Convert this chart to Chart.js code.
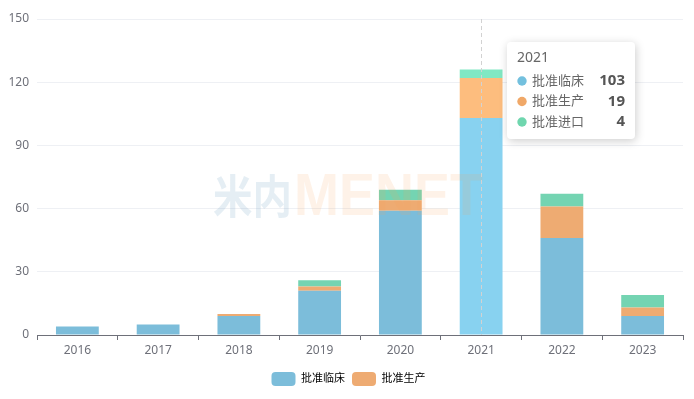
<!DOCTYPE html>
<html>
<head>
<meta charset="utf-8">
<script src="https://cdn.jsdelivr.net/npm/chart.js@4/dist/chart.umd.min.js"></script>
<style>
html,body{margin:0;padding:0;background:#fff;}
#wrap{width:694px;height:399px;position:relative;}
</style>
</head>
<body>
<div id="wrap"><canvas id="c" width="694" height="399"></canvas></div>
<script>
const categories = ['2016','2017','2018','2019','2020','2021','2022','2023'];
const seriesNames = ['批准临床','批准生产','批准进口'];
const clinical = [4, 5, 9, 21, 59, 103, 46, 9];
const production = [0, 0, 1, 2, 5, 19, 15, 4];
const imports = [0, 0, 0, 3, 5, 4, 6, 6];
const yTicks = [0, 30, 60, 90, 120, 150];
const hoverIndex = 5;

const FONT = "'Noto Sans','Noto Sans CJK SC',sans-serif";
const baseColors = ['#7cbdda', '#eeab72', '#74d4b2'];
const hotColors = ['#88d2f0', '#fdbd7e', '#80e8c3'];
const markerColors = ['#73c0de', '#f0a868', '#6fd6ae'];

function colorFor(ds){
  return ctx => ctx.dataIndex === hoverIndex ? hotColors[ds] : baseColors[ds];
}

const legendShift = {
  id: 'legendShift',
  afterLayout(chart){
    if (chart.legend){ chart.legend.left += 7; chart.legend.right += 7; }
  }
};

const watermark = {
  id: 'watermark',
  afterDatasetsDraw(chart){
    const ctx = chart.ctx;
    const a = chart.chartArea;
    const x0 = a.left + 176, base = a.top + 196;
    ctx.save();
    ctx.textBaseline = 'alphabetic';
    ctx.textAlign = 'left';
    ctx.fillStyle = 'rgba(110,160,195,0.18)';
    ctx.font = "bold 46px 'Noto Sans CJK SC',sans-serif";
    ctx.fillText('米内', x0, base - 2, 79);
    ctx.fillStyle = 'rgba(250,165,90,0.14)';
    ctx.font = "bold 59px 'Liberation Sans',sans-serif";
    ctx.fillText('MENET', x0 + 81, base, 189);
    // axis pointer
    const px = Math.round(chart.scales.x.getPixelForValue(hoverIndex)) + 0.5;
    ctx.strokeStyle = '#d2d2d2';
    ctx.lineWidth = 1;
    ctx.setLineDash([4, 3]);
    ctx.beginPath();
    ctx.moveTo(px, a.top);
    ctx.lineTo(px, a.bottom);
    ctx.stroke();
    ctx.restore();
  }
};

function roundRect(ctx, x, y, w, h, r){
  ctx.beginPath();
  ctx.moveTo(x + r, y);
  ctx.lineTo(x + w - r, y);
  ctx.arcTo(x + w, y, x + w, y + r, r);
  ctx.lineTo(x + w, y + h - r);
  ctx.arcTo(x + w, y + h, x + w - r, y + h, r);
  ctx.lineTo(x + r, y + h);
  ctx.arcTo(x, y + h, x, y + h - r, r);
  ctx.lineTo(x, y + r);
  ctx.arcTo(x, y, x + r, y, r);
  ctx.closePath();
}

const tipPlugin = {
  id: 'tipbox',
  afterDraw(chart){
    const ctx = chart.ctx;
    const px = chart.scales.x.getPixelForValue(hoverIndex);
    const left = Math.round(px + 26), top = 42, w = 128, h = 97;
    ctx.save();
    ctx.shadowColor = 'rgba(0,0,0,0.2)';
    ctx.shadowBlur = 10;
    ctx.shadowOffsetX = 1;
    ctx.shadowOffsetY = 2;
    ctx.fillStyle = '#fff';
    roundRect(ctx, left, top, w, h, 4);
    ctx.fill();
    ctx.restore();
    ctx.save();
    ctx.textBaseline = 'middle';
    ctx.fillStyle = '#666';
    ctx.font = '14px ' + FONT;
    ctx.textAlign = 'left';
    ctx.fillText(categories[hoverIndex], left + 10, top + 16);
    const vals = [clinical, production, imports];
    for (let i = 0; i < 3; i++){
      const cy = top + 39 + i * 20.5;
      ctx.fillStyle = markerColors[i];
      ctx.beginPath();
      ctx.arc(left + 15, cy, 4.7, 0, Math.PI * 2);
      ctx.fill();
      ctx.fillStyle = '#666';
      ctx.font = '13px ' + FONT;
      ctx.textAlign = 'left';
      ctx.fillText(seriesNames[i], left + 25, cy);
      ctx.fillStyle = '#555';
      ctx.font = 'bold 15px ' + FONT;
      ctx.textAlign = 'right';
      ctx.fillText(String(vals[i][hoverIndex]), left + 118, cy);
    }
    ctx.restore();
  }
};

new Chart(document.getElementById('c'), {
  type: 'bar',
  data: {
    labels: categories,
    datasets: [
      {label: seriesNames[0], data: clinical, backgroundColor: colorFor(0), borderWidth: 0},
      {label: seriesNames[1], data: production, backgroundColor: colorFor(1), borderWidth: 0},
      {label: seriesNames[2], data: imports, backgroundColor: colorFor(2), borderWidth: 0}
    ]
  },
  options: {
    responsive: false,
    animation: false,
    events: [],
    layout: {padding: {left: 0, right: 11, top: 19, bottom: 3}},
    datasets: {bar: {barPercentage: 0.53, categoryPercentage: 1}},
    plugins: {
      tooltip: {enabled: false},
      legend: {
        position: 'bottom',
        labels: {
          boxWidth: 24, boxHeight: 14, useBorderRadius: true, borderRadius: 4,
          color: '#333', padding: 7,
          font: {size: 11, family: FONT},
          filter: item => item.datasetIndex < 2,
          generateLabels: chart => chart.data.datasets.map((d, i) => ({
            text: d.label, fillStyle: baseColors[i], strokeStyle: baseColors[i],
            lineWidth: 0, datasetIndex: i, hidden: false, borderRadius: 4
          }))
        }
      }
    },
    scales: {
      x: {
        stacked: true,
        offset: true,
        grid: {display: true, offset: true, drawOnChartArea: false, drawTicks: true, tickLength: 5, color: '#6e7079'},
        border: {display: true, color: '#6e7079'},
        ticks: {color: '#6e7079', padding: 3, font: {size: 12, family: FONT}},
        afterFit: s => { s.height = 30; }
      },
      y: {
        stacked: true,
        min: 0, max: 150,
        afterBuildTicks: s => { s.ticks = yTicks.map(v => ({value: v})); },
        grid: {color: '#eef0f4', drawTicks: false},
        border: {display: false},
        ticks: {color: '#6e7079', padding: 8, font: {size: 12, family: FONT}},
        afterFit: s => { s.width = 37; }
      }
    }
  },
  plugins: [legendShift, watermark, tipPlugin]
});
</script>
</body>
</html>
